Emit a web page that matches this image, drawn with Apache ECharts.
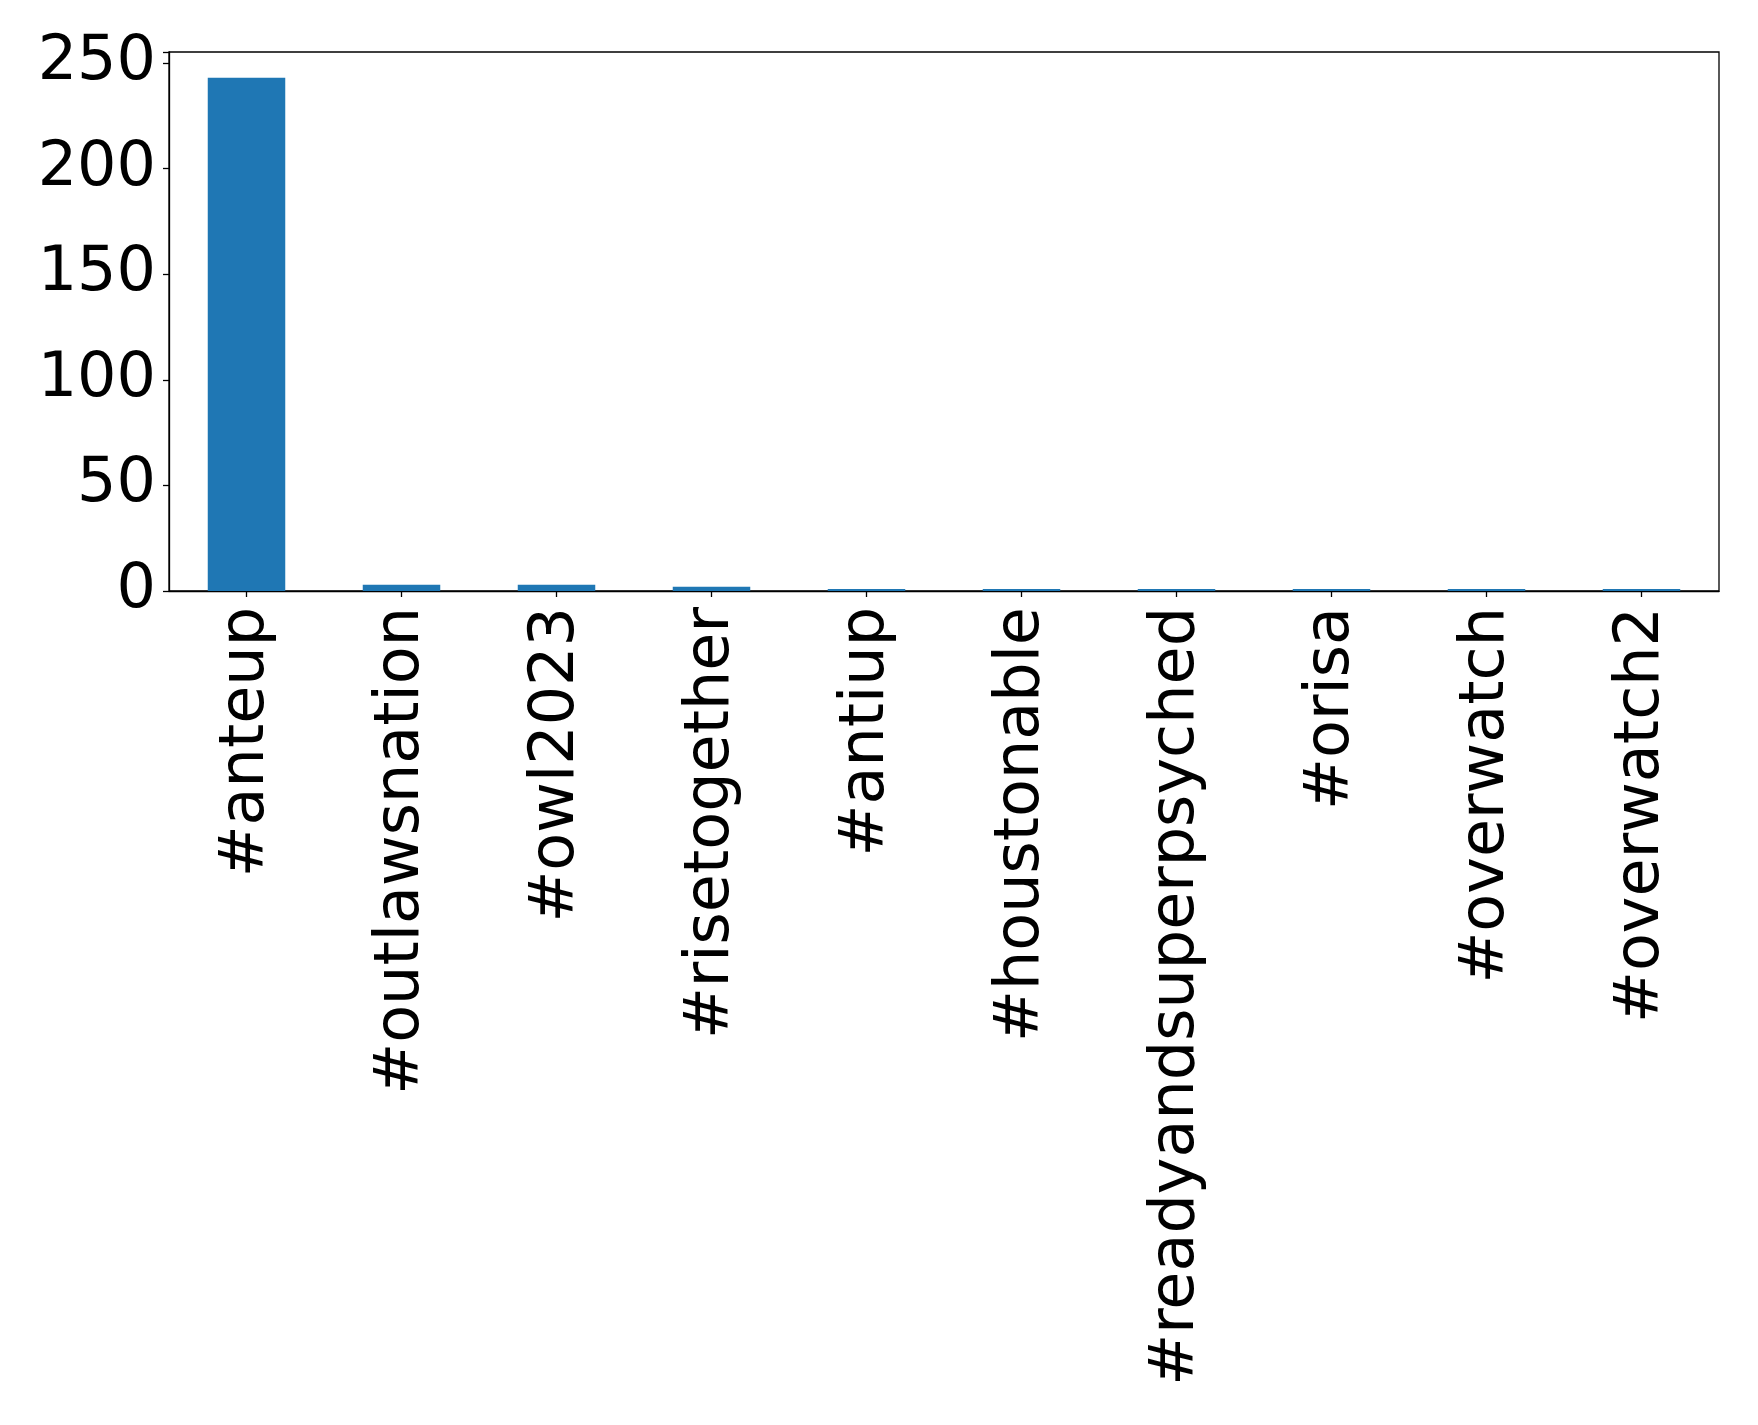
<!DOCTYPE html>
<html>
<head>
<meta charset="utf-8">
<script src="https://cdn.jsdelivr.net/npm/echarts@6/dist/echarts.min.js"></script>
<style>html,body{margin:0;padding:0;background:#fff}#c{width:1758px;height:1425px}</style>
</head>
<body>
<div id="c"></div>
<script>
const categories = ['#anteup','#outlawsnation','#owl2023','#risetogether','#antiup','#houstonable','#readyandsuperpsyched','#orisa','#overwatch','#overwatch2'];
const counts = [243, 3, 3, 2, 1, 1, 1, 1, 1, 1];
const yTicks = [0, 50, 100, 150, 200, 250];

const chart = echarts.init(document.getElementById('c'), null, {renderer: 'canvas'});
chart.setOption({
  animation: false,
  backgroundColor: '#ffffff',
  grid: {left: 169, right: 39, top: 52, bottom: 834, show: true, borderColor: '#000', borderWidth: 1.3, backgroundColor: 'transparent'},
  xAxis: {
    type: 'category',
    data: categories,
    boundaryGap: true,
    axisLine: {show: true, lineStyle: {color: '#000', width: 1.3}},
    axisTick: {show: true, alignWithLabel: true, length: 6, lineStyle: {color: '#000', width: 1.3}},
    axisLabel: {rotate: 90, margin: 16, fontFamily: 'DejaVu Sans', fontSize: 62, color: '#000', interval: 0},
    splitLine: {show: false}
  },
  yAxis: {
    type: 'value',
    min: 0,
    max: 243 * 1.05,
    interval: 50,
    axisLine: {show: true, lineStyle: {color: '#000', width: 1.3}},
    axisTick: {show: true, length: 6, lineStyle: {color: '#000', width: 1.3}},
    axisLabel: {margin: 13, fontFamily: 'DejaVu Sans', fontSize: 62, color: '#000',
      formatter: v => yTicks.includes(v) ? String(v) : ''},
    splitLine: {show: false}
  },
  series: [{
    type: 'bar',
    data: counts,
    barWidth: '50%',
    itemStyle: {color: '#1f77b4'}
  }]
});
</script>
</body>
</html>
